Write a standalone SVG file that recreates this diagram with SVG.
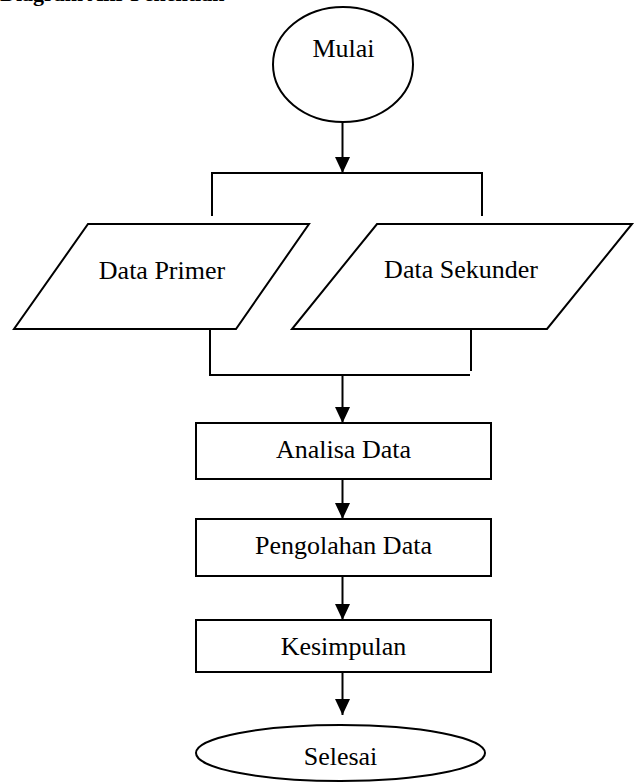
<svg xmlns="http://www.w3.org/2000/svg" width="636" height="784" viewBox="0 0 636 784">
<style>
.shape{fill:#fff;stroke:#000;stroke-width:2}
.line{fill:none;stroke:#000;stroke-width:2}
.lbl{font-family:"Liberation Serif","Times New Roman",serif;font-size:26px;fill:#000;text-anchor:middle}
.title{font-family:"Liberation Serif","Times New Roman",serif;font-size:22px;font-weight:bold;fill:#000}
</style>
<defs>
<marker id="arrow" viewBox="0 0 16 15" refX="16" refY="7.5" markerWidth="16" markerHeight="15" markerUnits="userSpaceOnUse" orient="auto">
<path d="M0,0 L16,7.5 L0,15 z" fill="#000"/>
</marker>
</defs>
<rect width="636" height="784" fill="#fff"/>
<text class="title" x="0" y="1">Diagram Alir Penelitian</text>
<g id="connectors">
<line class="line" x1="342.5" y1="122" x2="342.5" y2="173" marker-end="url(#arrow)"/>
<polyline class="line" points="212,216 212,173 482,173 482,216"/>
<polyline class="line" points="210,329 210,375 470,375"/>
<line class="line" x1="471" y1="329" x2="471" y2="371"/>
<line class="line" x1="342.5" y1="375" x2="342.5" y2="423" marker-end="url(#arrow)"/>
<line class="line" x1="342.5" y1="479" x2="342.5" y2="519" marker-end="url(#arrow)"/>
<line class="line" x1="342.5" y1="576" x2="342.5" y2="620" marker-end="url(#arrow)"/>
<line class="line" x1="342.5" y1="672" x2="342.5" y2="715" marker-end="url(#arrow)"/>
</g>
<g id="mulai">
<ellipse class="shape" cx="343" cy="64.5" rx="70" ry="57.5"/>
<text class="lbl" x="343.5" y="57">Mulai</text>
</g>
<g id="data-primer">
<polygon class="shape" points="88,224 309,224 236,329 14,329"/>
<text class="lbl" x="162" y="279">Data Primer</text>
</g>
<g id="data-sekunder">
<polygon class="shape" points="377,224 632,224 547,329 292,329"/>
<text class="lbl" x="461" y="278">Data Sekunder</text>
</g>
<g id="analisa-data">
<rect class="shape" x="196" y="423" width="295" height="56"/>
<text class="lbl" x="343.5" y="458">Analisa Data</text>
</g>
<g id="pengolahan-data">
<rect class="shape" x="196" y="519" width="295" height="57"/>
<text class="lbl" x="343.5" y="554">Pengolahan Data</text>
</g>
<g id="kesimpulan">
<rect class="shape" x="196" y="620" width="295" height="52"/>
<text class="lbl" x="343.5" y="655">Kesimpulan</text>
</g>
<g id="selesai">
<ellipse class="shape" cx="340.5" cy="753" rx="144.5" ry="28"/>
<text class="lbl" x="340.5" y="765">Selesai</text>
</g>
</svg>
